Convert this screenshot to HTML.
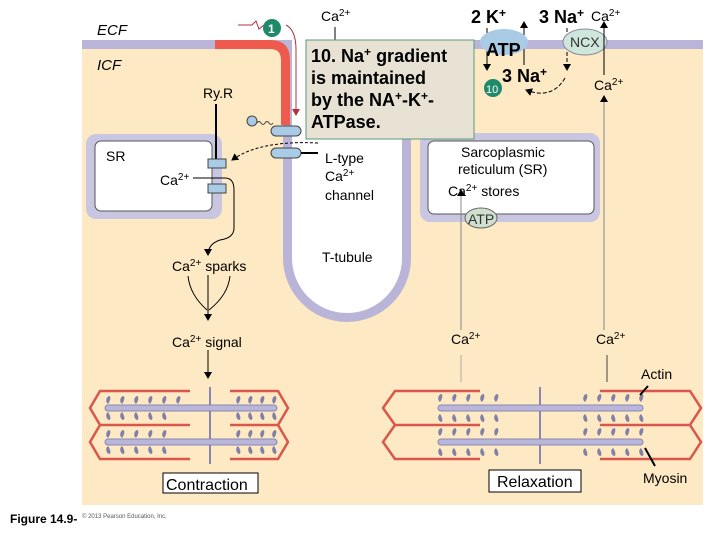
<!DOCTYPE html>
<html><head><meta charset="utf-8"><style>
html,body{margin:0;padding:0;background:#fff;}
svg{display:block;font-family:"Liberation Sans",sans-serif;}
</style></head><body>
<svg width="720" height="540" viewBox="0 0 720 540" xmlns="http://www.w3.org/2000/svg">
<defs>
<marker id="ar" markerWidth="8" markerHeight="8" refX="6" refY="4" orient="auto" markerUnits="userSpaceOnUse"><path d="M0,0 L7,4 L0,8 z" fill="#000"/></marker>
<marker id="ar2" markerWidth="8" markerHeight="8" refX="6" refY="4" orient="auto" markerUnits="userSpaceOnUse"><path d="M0,0 L7,4 L0,8 z" fill="#b03040"/></marker>
<g id="hu"><path d="M0,0 c-3,-2 -2,-7 1,-8 c2,0 2,4 -1,8 z" fill="#8080a8"/></g>
<g id="hd"><path d="M0,0 c-3,2 -2,7 1,8 c2,0 2,-4 -1,-8 z" fill="#8080a8"/></g>
</defs>
<!-- ICF background -->
<rect x="82" y="48" width="621" height="457" fill="#fde9c3"/>
<!-- membrane -->
<rect x="82" y="40" width="621" height="9" fill="#b9b4d8"/>
<!-- T-tubule -->
<path d="M283,44 L283,258 A64,64 0 0 0 411,258 L411,44 Z" fill="#b9b4d8"/>
<path d="M292,40 L292,258 A55,55 0 0 0 402,258 L402,40 Z" fill="#fff"/>
<!-- red segment -->
<path d="M215,40 L270,40 Q290,40 290,60 L290,125 L281,125 L281,60 Q281,49 270,49 L215,49 Z" fill="#ee5a4e"/>
<!-- left SR -->
<rect x="86" y="134" width="136" height="85" rx="10" fill="#c9c6e2"/>
<rect x="95" y="141" width="117" height="70" rx="6" fill="#fff" stroke="#555" stroke-width="1"/>
<!-- right SR -->
<rect x="420" y="133" width="180" height="89" rx="10" fill="#c9c6e2"/>
<rect x="428" y="141" width="166" height="73" rx="6" fill="#fff" stroke="#555" stroke-width="1"/>
<ellipse cx="481" cy="218" rx="16" ry="10" fill="#cfe0cf" stroke="#666"/>
<text x="468" y="224" font-size="14" fill="#333">ATP</text>
<!-- RyR -->
<line x1="216" y1="104" x2="216" y2="160" stroke="#000" stroke-width="2"/>
<rect x="208" y="159" width="18" height="9" fill="#a9cbe6" stroke="#444"/>
<rect x="208" y="184" width="18" height="9" fill="#a9cbe6" stroke="#444"/>
<!-- channels -->
<circle cx="252" cy="121" r="5" fill="#a9cbe6" stroke="#444"/>
<path d="M257,123 q2,-3 4,0 q2,3 4,0 q2,-3 4,0 q2,3 4,0" fill="none" stroke="#444"/>
<rect x="271" y="126" width="30" height="10" rx="5" fill="#a9cbe6" stroke="#444"/>
<rect x="271" y="148" width="30" height="10" rx="5" fill="#a9cbe6" stroke="#444"/>
<line x1="301" y1="153" x2="318" y2="153" stroke="#000" stroke-width="2"/>
<path d="M318,143 Q260,140 232,160" fill="none" stroke="#000" stroke-dasharray="3,2" marker-end="url(#ar)"/>
<!-- Ca2+ to sparks -->
<path d="M193,178 L225,178 Q234,178 234,190 L234,228 Q234,238 220,240 Q208,244 208,255" fill="none" stroke="#000" marker-end="url(#ar)"/>
<path d="M188,276 Q190,295 207,310 M230,276 Q228,295 209,310 M208,275 L208,320" fill="none" stroke="#000" marker-end="url(#ar)"/>
<line x1="208" y1="350" x2="208" y2="378" stroke="#000" marker-end="url(#ar)"/>
<!-- arrow from 1 -->
<path d="M238,25 L252,25 L256,21 L259,29 L264,25" fill="none" stroke="#b03040"/>
<path d="M286,25 Q296,30 296,50 L296,115" fill="none" stroke="#b03040" marker-end="url(#ar2)"/>
<line x1="224" y1="25" x2="262" y2="25" stroke="#b03040" stroke-width="0"/>
<circle cx="272" cy="28" r="9" fill="#1f8a6a"/>
<text x="268" y="33" font-size="12" font-weight="bold" fill="#fff">1</text>
<line x1="335" y1="27" x2="335" y2="42" stroke="#000"/>
<!-- pump area -->
<line x1="487" y1="28" x2="487" y2="70" stroke="#000" marker-end="url(#ar)"/>
<line x1="524" y1="65" x2="524" y2="22" stroke="#000" marker-end="url(#ar)"/>
<ellipse cx="504" cy="42" rx="24" ry="13" fill="#a9cbe6"/>
<text x="486" y="56" font-size="18" font-weight="bold">ATP</text>
<line x1="567" y1="28" x2="567" y2="70" stroke="#000" stroke-dasharray="4,2" marker-end="url(#ar)"/>
<path d="M565,78 Q552,100 526,90" fill="none" stroke="#000" stroke-dasharray="4,2" marker-end="url(#ar)"/>
<ellipse cx="585" cy="42" rx="22" ry="13" fill="#cfe6dc" stroke="#889"/>
<text x="570" y="47" font-size="14" fill="#333">NCX</text>
<line x1="604" y1="75" x2="604" y2="22" stroke="#000" marker-end="url(#ar)"/>
<line x1="604" y1="240" x2="604" y2="96" stroke="#888" marker-end="url(#ar)"/>
<line x1="604" y1="330" x2="604" y2="240" stroke="#888"/>
<line x1="461" y1="330" x2="461" y2="190" stroke="#888" marker-end="url(#ar)"/>
<line x1="461" y1="355" x2="461" y2="382" stroke="#aaa"/>
<line x1="607" y1="355" x2="607" y2="382" stroke="#444"/>
<circle cx="493" cy="88" r="9" fill="#1f8a6a"/>
<text x="486" y="93" font-size="11" fill="#fff">10</text>
<!-- text box -->
<rect x="306" y="40" width="168" height="99" fill="#e7e2d3" stroke="#5a9a80"/>
<g font-size="18" font-weight="bold">
<text x="311" y="62">10. Na<tspan font-size="12" dy="-6">+</tspan><tspan dy="6"> gradient</tspan></text>
<text x="311" y="84">is maintained</text>
<text x="311" y="106">by the NA<tspan font-size="12" dy="-6">+</tspan><tspan dy="6">-K</tspan><tspan font-size="12" dy="-6">+</tspan><tspan dy="6">-</tspan></text>
<text x="311" y="128">ATPase.</text>
</g>
<!-- labels -->
<g font-size="14">
<text x="97" y="35" font-style="italic" font-size="15">ECF</text>
<text x="97" y="70" font-style="italic" font-size="15">ICF</text>
<text x="203" y="98">Ry.R</text>
<text x="106" y="161">SR</text>
<text x="160" y="185">Ca<tspan font-size="10" dy="-5">2+</tspan></text>
<text x="172" y="271">Ca<tspan font-size="10" dy="-5">2+</tspan><tspan dy="5"> sparks</tspan></text>
<text x="172" y="347">Ca<tspan font-size="10" dy="-5">2+</tspan><tspan dy="5"> signal</tspan></text>
<text x="325" y="163">L-type</text>
<text x="325" y="181">Ca<tspan font-size="10" dy="-5">2+</tspan></text>
<text x="325" y="200">channel</text>
<text x="322" y="262">T-tubule</text>
<text x="321" y="21">Ca<tspan font-size="10" dy="-5">2+</tspan></text>
<text x="591" y="21">Ca<tspan font-size="10" dy="-5">2+</tspan></text>
<text x="594" y="90">Ca<tspan font-size="10" dy="-5">2+</tspan></text>
<text x="461" y="157">Sarcoplasmic</text>
<text x="458" y="174">reticulum (SR)</text>
<text x="448" y="196">Ca<tspan font-size="10" dy="-5">2+</tspan><tspan dy="5"> stores</tspan></text>
<text x="451" y="344">Ca<tspan font-size="10" dy="-5">2+</tspan></text>
<text x="596" y="344">Ca<tspan font-size="10" dy="-5">2+</tspan></text>
<text x="641" y="379">Actin</text>
<text x="643" y="483">Myosin</text>
</g>
<g font-size="18" font-weight="bold">
<text x="471" y="23">2 K<tspan font-size="12" dy="-6">+</tspan></text>
<text x="539" y="23">3 Na<tspan font-size="12" dy="-6">+</tspan></text>
<text x="502" y="82">3 Na<tspan font-size="12" dy="-6">+</tspan></text>
</g>
<!-- Left sarcomere (contraction) -->
<g stroke="#d9574c" stroke-width="2.5" fill="none">
<path d="M190,391 L100,391 L90,408 L100,425 L90,442 L100,459 L190,459 M100,425 L190,425"/>
<path d="M230,391 L278,391 L288,408 L278,425 L288,442 L278,459 L230,459 M278,425 L230,425"/>
</g>
<line x1="210" y1="387" x2="210" y2="464" stroke="#8a86b0" stroke-width="2"/>
<rect x="105" y="405" width="172" height="6" rx="3" fill="#b9b6dc" stroke="#8a86b0"/>
<rect x="105" y="439" width="172" height="6" rx="3" fill="#b9b6dc" stroke="#8a86b0"/>
<g>
<use href="#hu" x="108" y="404"/><use href="#hu" x="122" y="404"/><use href="#hu" x="136" y="404"/><use href="#hu" x="150" y="404"/><use href="#hu" x="164" y="404"/><use href="#hu" x="178" y="404"/>
<use href="#hu" x="238" y="404"/><use href="#hu" x="250" y="404"/><use href="#hu" x="262" y="404"/><use href="#hu" x="274" y="404"/>
<use href="#hd" x="108" y="412"/><use href="#hd" x="122" y="412"/><use href="#hd" x="136" y="412"/><use href="#hd" x="150" y="412"/><use href="#hd" x="164" y="412"/>
<use href="#hd" x="238" y="412"/><use href="#hd" x="250" y="412"/><use href="#hd" x="262" y="412"/><use href="#hd" x="274" y="412"/>
<use href="#hu" x="108" y="438"/><use href="#hu" x="122" y="438"/><use href="#hu" x="136" y="438"/><use href="#hu" x="150" y="438"/><use href="#hu" x="164" y="438"/>
<use href="#hu" x="238" y="438"/><use href="#hu" x="250" y="438"/><use href="#hu" x="262" y="438"/><use href="#hu" x="274" y="438"/>
<use href="#hd" x="108" y="446"/><use href="#hd" x="122" y="446"/><use href="#hd" x="136" y="446"/><use href="#hd" x="150" y="446"/><use href="#hd" x="164" y="446"/>
<use href="#hd" x="238" y="446"/><use href="#hd" x="250" y="446"/><use href="#hd" x="262" y="446"/><use href="#hd" x="274" y="446"/>
</g>
<!-- Right sarcomere (relaxation) -->
<g stroke="#d9574c" stroke-width="2.5" fill="none">
<path d="M480,391 L395,391 L383,408 L395,425 L383,442 L395,459 L480,459 M395,425 L480,425"/>
<path d="M600,391 L690,391 L701,408 L690,425 L701,442 L690,459 L600,459 M690,425 L600,425"/>
</g>
<line x1="540" y1="387" x2="540" y2="464" stroke="#8a86b0" stroke-width="2"/>
<rect x="438" y="405" width="205" height="6" rx="3" fill="#b9b6dc" stroke="#8a86b0"/>
<rect x="438" y="439" width="205" height="6" rx="3" fill="#b9b6dc" stroke="#8a86b0"/>
<g>
<use href="#hu" x="440" y="402"/><use href="#hu" x="454" y="402"/><use href="#hu" x="468" y="402"/><use href="#hu" x="482" y="402"/><use href="#hu" x="496" y="402"/>
<use href="#hu" x="585" y="402"/><use href="#hu" x="599" y="402"/><use href="#hu" x="613" y="402"/><use href="#hu" x="627" y="402"/><use href="#hu" x="641" y="402"/>
<use href="#hd" x="440" y="414"/><use href="#hd" x="454" y="414"/><use href="#hd" x="468" y="414"/><use href="#hd" x="482" y="414"/><use href="#hd" x="496" y="414"/>
<use href="#hd" x="585" y="414"/><use href="#hd" x="599" y="414"/><use href="#hd" x="613" y="414"/><use href="#hd" x="627" y="414"/><use href="#hd" x="641" y="414"/>
<use href="#hu" x="440" y="436"/><use href="#hu" x="454" y="436"/><use href="#hu" x="468" y="436"/><use href="#hu" x="482" y="436"/><use href="#hu" x="496" y="436"/>
<use href="#hu" x="585" y="436"/><use href="#hu" x="599" y="436"/><use href="#hu" x="613" y="436"/><use href="#hu" x="627" y="436"/><use href="#hu" x="641" y="436"/>
<use href="#hd" x="440" y="448"/><use href="#hd" x="454" y="448"/><use href="#hd" x="468" y="448"/><use href="#hd" x="482" y="448"/><use href="#hd" x="496" y="448"/>
<use href="#hd" x="585" y="448"/><use href="#hd" x="599" y="448"/><use href="#hd" x="613" y="448"/><use href="#hd" x="627" y="448"/><use href="#hd" x="641" y="448"/>
</g>
<line x1="648" y1="386" x2="640" y2="395" stroke="#000" stroke-width="2"/>
<line x1="655" y1="466" x2="645" y2="448" stroke="#000" stroke-width="2"/>
<!-- boxes -->
<rect x="163" y="473" width="95" height="20" fill="#fff" stroke="#000"/>
<text x="166" y="490" font-size="16">Contraction</text>
<rect x="489" y="470" width="92" height="22" fill="#fff" stroke="#000"/>
<text x="497" y="487" font-size="16">Relaxation</text>
<text x="10" y="523" font-size="12" font-weight="bold">Figure 14.9-</text>
<text x="82" y="518" font-size="6" fill="#555">© 2013 Pearson Education, Inc.</text>
</svg>
</body></html>
